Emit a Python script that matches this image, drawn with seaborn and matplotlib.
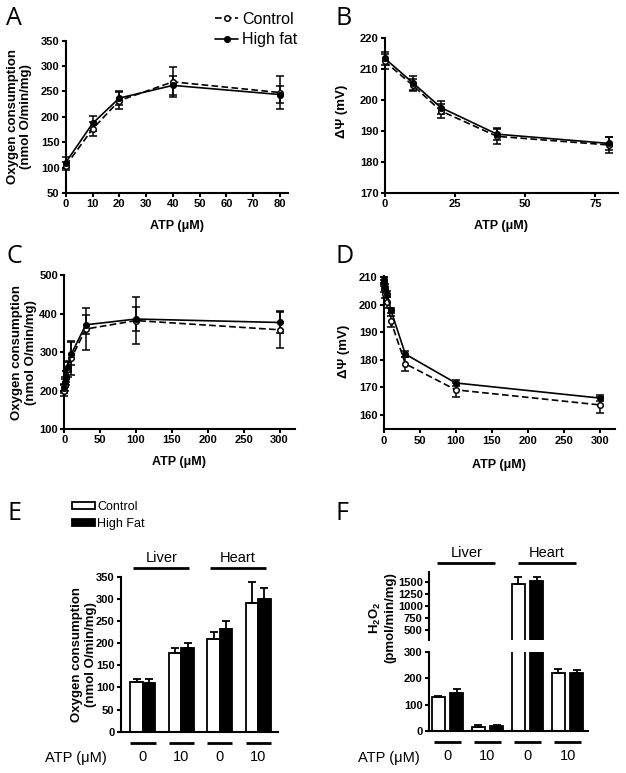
import matplotlib
matplotlib.use("Agg")
import matplotlib.pyplot as plt
import matplotlib.transforms as mtransforms
import pandas as pd
import seaborn as sns

# ---- means and SEM ----
# A / B : liver mitochondria, ATP titration
atp_liver = [0, 10, 20, 40, 80]
a_control = [104, 176, 232, 269, 248]
a_control_sem = [8, 13, 17, 30, 32]
a_highfat = [110, 187, 237, 262, 244]
a_highfat_sem = [10, 14, 14, 18, 16]

b_control = [212.5, 204.8, 196.5, 188.3, 185.5]
b_control_sem = [2.5, 2.0, 2.2, 2.5, 2.5]
b_highfat = [213.5, 205.6, 197.6, 189.0, 186.0]
b_highfat_sem = [2.0, 2.2, 2.2, 2.0, 2.0]

# C / D : heart mitochondria
atp_heart = [0, 1, 2, 5, 10, 30, 100, 300]
c_control = [200, 215, 232, 255, 285, 360, 382, 358]
c_control_sem = [15, 15, 18, 20, 45, 55, 60, 48]
c_highfat = [206, 222, 236, 262, 296, 371, 386, 377]
c_highfat_sem = [12, 12, 15, 15, 30, 25, 32, 28]

d_control = [209, 206, 204, 201, 194, 178.5, 169, 163.5]
d_control_sem = [1, 1.5, 1.5, 2, 2, 2.5, 2.5, 3]
d_highfat = [209, 208, 206.5, 204, 198, 182, 171.5, 166]
d_highfat_sem = [1, 1, 1, 1, 1, 1, 1, 1.2]

# E / F : bars
bar_conditions = ["Liver 0", "Liver 10", "Heart 0", "Heart 10"]
bar_atp_labels = ["0", "10", "0", "10"]
tissues = ["Liver", "Heart"]
diets = ["Control", "High Fat"]
e_control = [113, 177, 209, 291]
e_control_sem = [6, 13, 17, 48]
e_highfat = [109, 188, 232, 300]
e_highfat_sem = [11, 12, 18, 24]
f_control = [127, 16, 1452, 218]
f_control_sem = [4, 7, 140, 15]
f_highfat = [143, 20, 1520, 218]
f_highfat_sem = [16, 3, 85, 12]

sns.set_style("ticks", {"axes.edgecolor": "black", "xtick.color": "black",
                        "ytick.color": "black", "text.color": "black",
                        "axes.labelcolor": "black"})
plt.rcParams["font.family"] = ["Liberation Sans", "DejaVu Sans"]
plt.rcParams["font.weight"] = "bold"
plt.rcParams["axes.labelweight"] = "bold"
plt.rcParams["mathtext.default"] = "regular"

fig = plt.figure(figsize=(6.26, 7.73), dpi=100)


def style(ax):
    sns.despine(ax=ax)
    ax.spines["left"].set_linewidth(1.5)
    ax.spines["bottom"].set_linewidth(1.5)
    ax.tick_params(width=1.5, length=3, labelsize=8, pad=1.5)


def line_panel(ax, x, ctrl, ctrl_sem, hf, hf_sem):
    err_kw = dict(fmt="none", ecolor="black", elinewidth=1.1, capsize=3,
                  capthick=1.1, clip_on=False)
    ax.errorbar(x, ctrl, yerr=ctrl_sem, **err_kw)
    ax.errorbar(x, hf, yerr=hf_sem, **err_kw)
    sns.lineplot(x=x, y=ctrl, ax=ax, color="black", linewidth=1.2,
                 linestyle=(0, (4, 2)), marker="o", markersize=4,
                 markerfacecolor="white", markeredgecolor="black",
                 markeredgewidth=1.1, errorbar=None, label="Control",
                 clip_on=False, zorder=3)
    sns.lineplot(x=x, y=hf, ax=ax, color="black", linewidth=1.2,
                 marker="o", markersize=4, markerfacecolor="black",
                 markeredgecolor="black", markeredgewidth=1.1,
                 errorbar=None, label="High fat", clip_on=False, zorder=4)
    leg = ax.get_legend()
    if leg is not None:
        leg.remove()
    style(ax)


ylab_o2 = "Oxygen consumption\n(nmol O/min/mg)"
ylab_psi = "ΔΨ (mV)"
xlab_atp = "ATP (μM)"

# ---- A ----
ax_a = fig.add_axes([0.105, 0.7503, 0.355, 0.197])
line_panel(ax_a, atp_liver, a_control, a_control_sem, a_highfat, a_highfat_sem)
ax_a.set_xlim(0, 83)
ax_a.set_xticks(range(0, 81, 10))
ax_a.set_ylim(50, 350)
ax_a.set_yticks(range(50, 351, 50))
ax_a.set_xlabel(xlab_atp, fontsize=9, labelpad=7.5)
ax_a.set_ylabel(ylab_o2, fontsize=9.5, linespacing=1.15)
ax_a.yaxis.set_label_coords(-0.15, 0.5)
h = [l for l in ax_a.get_lines() if l.get_label() in ("Control", "High fat")]
fig.legend(handles=h, labels=["Control", "High fat"], loc="upper left",
           bbox_to_anchor=(215 / 626, 1 - 12 / 773), frameon=False,
           prop={"family": "Liberation Sans", "weight": "normal", "size": 11.5},
           handlelength=1.45, handletextpad=0.25, labelspacing=0.33,
           borderpad=0, borderaxespad=0)

# ---- B ----
ax_b = fig.add_axes([0.6145, 0.7503, 0.3725, 0.2003])
line_panel(ax_b, atp_liver, b_control, b_control_sem, b_highfat, b_highfat_sem)
ax_b.set_xlim(0, 83)
ax_b.set_xticks([0, 25, 50, 75])
ax_b.set_ylim(170, 220)
ax_b.set_yticks(range(170, 221, 10))
ax_b.set_xlabel(xlab_atp, fontsize=9, labelpad=7.5)
ax_b.set_ylabel(ylab_psi, fontsize=9.5)
ax_b.yaxis.set_label_coords(-0.157, 0.53)

# ---- C ----
ax_c = fig.add_axes([0.1027, 0.445, 0.368, 0.199])
line_panel(ax_c, atp_heart, c_control, c_control_sem, c_highfat, c_highfat_sem)
ax_c.set_xlim(0, 321)
ax_c.set_xticks(range(0, 301, 50))
ax_c.set_ylim(100, 500)
ax_c.set_yticks(range(100, 501, 100))
ax_c.set_xlabel(xlab_atp, fontsize=9, labelpad=7.5)
ax_c.set_ylabel(ylab_o2, fontsize=9.5, linespacing=1.15)
ax_c.yaxis.set_label_coords(-0.12, 0.5)

# ---- D ----
ax_d = fig.add_axes([0.613, 0.4446, 0.369, 0.1984])
line_panel(ax_d, atp_heart, d_control, d_control_sem, d_highfat, d_highfat_sem)
ax_d.set_xlim(0, 321)
ax_d.set_xticks(range(0, 301, 50))
ax_d.set_ylim(154.6, 210.5)
ax_d.set_yticks(range(160, 211, 10))
ax_d.set_xlabel(xlab_atp, fontsize=9, labelpad=10)
ax_d.set_ylabel(ylab_psi, fontsize=9.5)
ax_d.yaxis.set_label_coords(-0.147, 0.506)


# ---- bar panels ----
def bar_df(ctrl, hf):
    return pd.DataFrame({"condition": bar_conditions * 2,
                         "diet": [diets[0]] * 4 + [diets[1]] * 4,
                         "value": ctrl + hf})


def bar_panel(ax, ctrl, ctrl_sem, hf, hf_sem, width, gap):
    sns.barplot(data=bar_df(ctrl, hf), x="condition", y="value", hue="diet",
                order=bar_conditions, hue_order=diets,
                palette={"Control": "white", "High Fat": "black"},
                saturation=1, edgecolor="black", linewidth=1.3,
                width=width, gap=gap, errorbar=None, legend=False, ax=ax)
    for cont, sem in zip(ax.containers[:2], [ctrl_sem, hf_sem]):
        for bar, s in zip(cont, sem):
            cx = bar.get_x() + bar.get_width() / 2
            ax.errorbar(cx, bar.get_height(), yerr=[[0], [s]], fmt="none",
                        ecolor="black", elinewidth=1.3, capsize=3, capthick=1.3)
    ax.set_xlabel("")
    ax.set_ylabel("")


def atp_marks(ax):
    trans = mtransforms.blended_transform_factory(ax.transData, ax.transAxes)
    off = mtransforms.offset_copy(trans, fig=fig, y=-11, units="dots")
    for i in range(len(bar_conditions)):
        ax.plot([i - 0.33, i + 0.33], [0, 0], transform=off, color="black",
                lw=2, clip_on=False, solid_capstyle="butt")
    ax.set_xticks(range(len(bar_conditions)))
    ax.set_xticklabels(bar_atp_labels, fontweight="normal", fontsize=10.5)
    ax.tick_params(axis="x", length=0, pad=13)


def tissue_marks(ax):
    trans = mtransforms.blended_transform_factory(ax.transData, ax.transAxes)
    off_line = mtransforms.offset_copy(trans, fig=fig, y=9, units="dots")
    off_text = mtransforms.offset_copy(trans, fig=fig, y=19, units="dots")
    for k, name in enumerate(tissues):
        g0, g1 = 2 * k, 2 * k + 1
        ax.plot([g0 - 0.25, g1 + 0.2], [1, 1], transform=off_line,
                color="black", lw=2, clip_on=False, solid_capstyle="butt")
        ax.text((g0 + g1) / 2 - 0.025, 1, name, transform=off_text,
                ha="center", va="center", fontsize=10.5, fontweight="normal")


# ---- E ----
ax_e = fig.add_axes([0.1928, 0.0534, 0.251, 0.2006])
bar_panel(ax_e, e_control, e_control_sem, e_highfat, e_highfat_sem, 0.65, 0)
style(ax_e)
ax_e.set_xlim(-0.58, 3.51)
ax_e.set_ylim(0, 350)
ax_e.set_yticks(range(0, 351, 50))
ax_e.set_ylabel(ylab_o2, fontsize=9.5, linespacing=1.15)
ax_e.yaxis.set_label_coords(-0.153, 0.5)
atp_marks(ax_e)
tissue_marks(ax_e)
fig.legend(handles=ax_e.containers[:2], labels=diets, loc="upper left",
           bbox_to_anchor=(72 / 626, 1 - 501 / 773), frameon=False,
           prop={"family": "Liberation Sans", "weight": "normal", "size": 9},
           handlelength=1.84, handleheight=0.56, handletextpad=0.16,
           labelspacing=0.4, borderpad=0, borderaxespad=0)
fig.text(45 / 626, 1 - 758 / 773, xlab_atp, ha="left", va="center",
         fontsize=10.5, fontweight="normal")

# ---- F (broken axis) ----
ax_f = fig.add_axes([0.6853, 0.0543, 0.254, 0.1026])
ax_f_top = fig.add_axes([0.6853, 0.1721, 0.254, 0.0883])
for ax in (ax_f, ax_f_top):
    bar_panel(ax, f_control, f_control_sem, f_highfat, f_highfat_sem, 0.92, 0.28)
    style(ax)
    ax.set_xlim(-0.46, 3.51)
ax_f.set_ylim(0, 300)
ax_f.set_yticks(range(0, 301, 100))
atp_marks(ax_f)
ax_f_top.set_ylim(293, 1707)
ax_f_top.set_yticks(range(500, 1501, 250))
ax_f_top.spines["bottom"].set_visible(False)
ax_f_top.tick_params(axis="x", bottom=False, labelbottom=False)
tissue_marks(ax_f_top)
fig.text(396 / 626, 1 - 618 / 773, "H$_2$O$_2$\n(pmol/min/mg)", rotation=90,
         ha="right", va="center", multialignment="center", fontsize=9.5,
         fontweight="bold", linespacing=1.15)
fig.text(358 / 626, 1 - 758 / 773, xlab_atp, ha="left", va="center",
         fontsize=10.5, fontweight="normal")

# ---- panel letters ----
letter_kw = dict(fontsize=18, fontweight="normal", family="Open Sans",
                 va="baseline")
for letter, (px, py) in zip("ABCDEF", [(6, 25), (336, 25), (6, 263),
                                         (336, 263), (8, 520), (336, 520)]):
    fig.text(px / 626, 1 - py / 773, letter, **letter_kw)

fig.savefig("out.png", dpi=100)
